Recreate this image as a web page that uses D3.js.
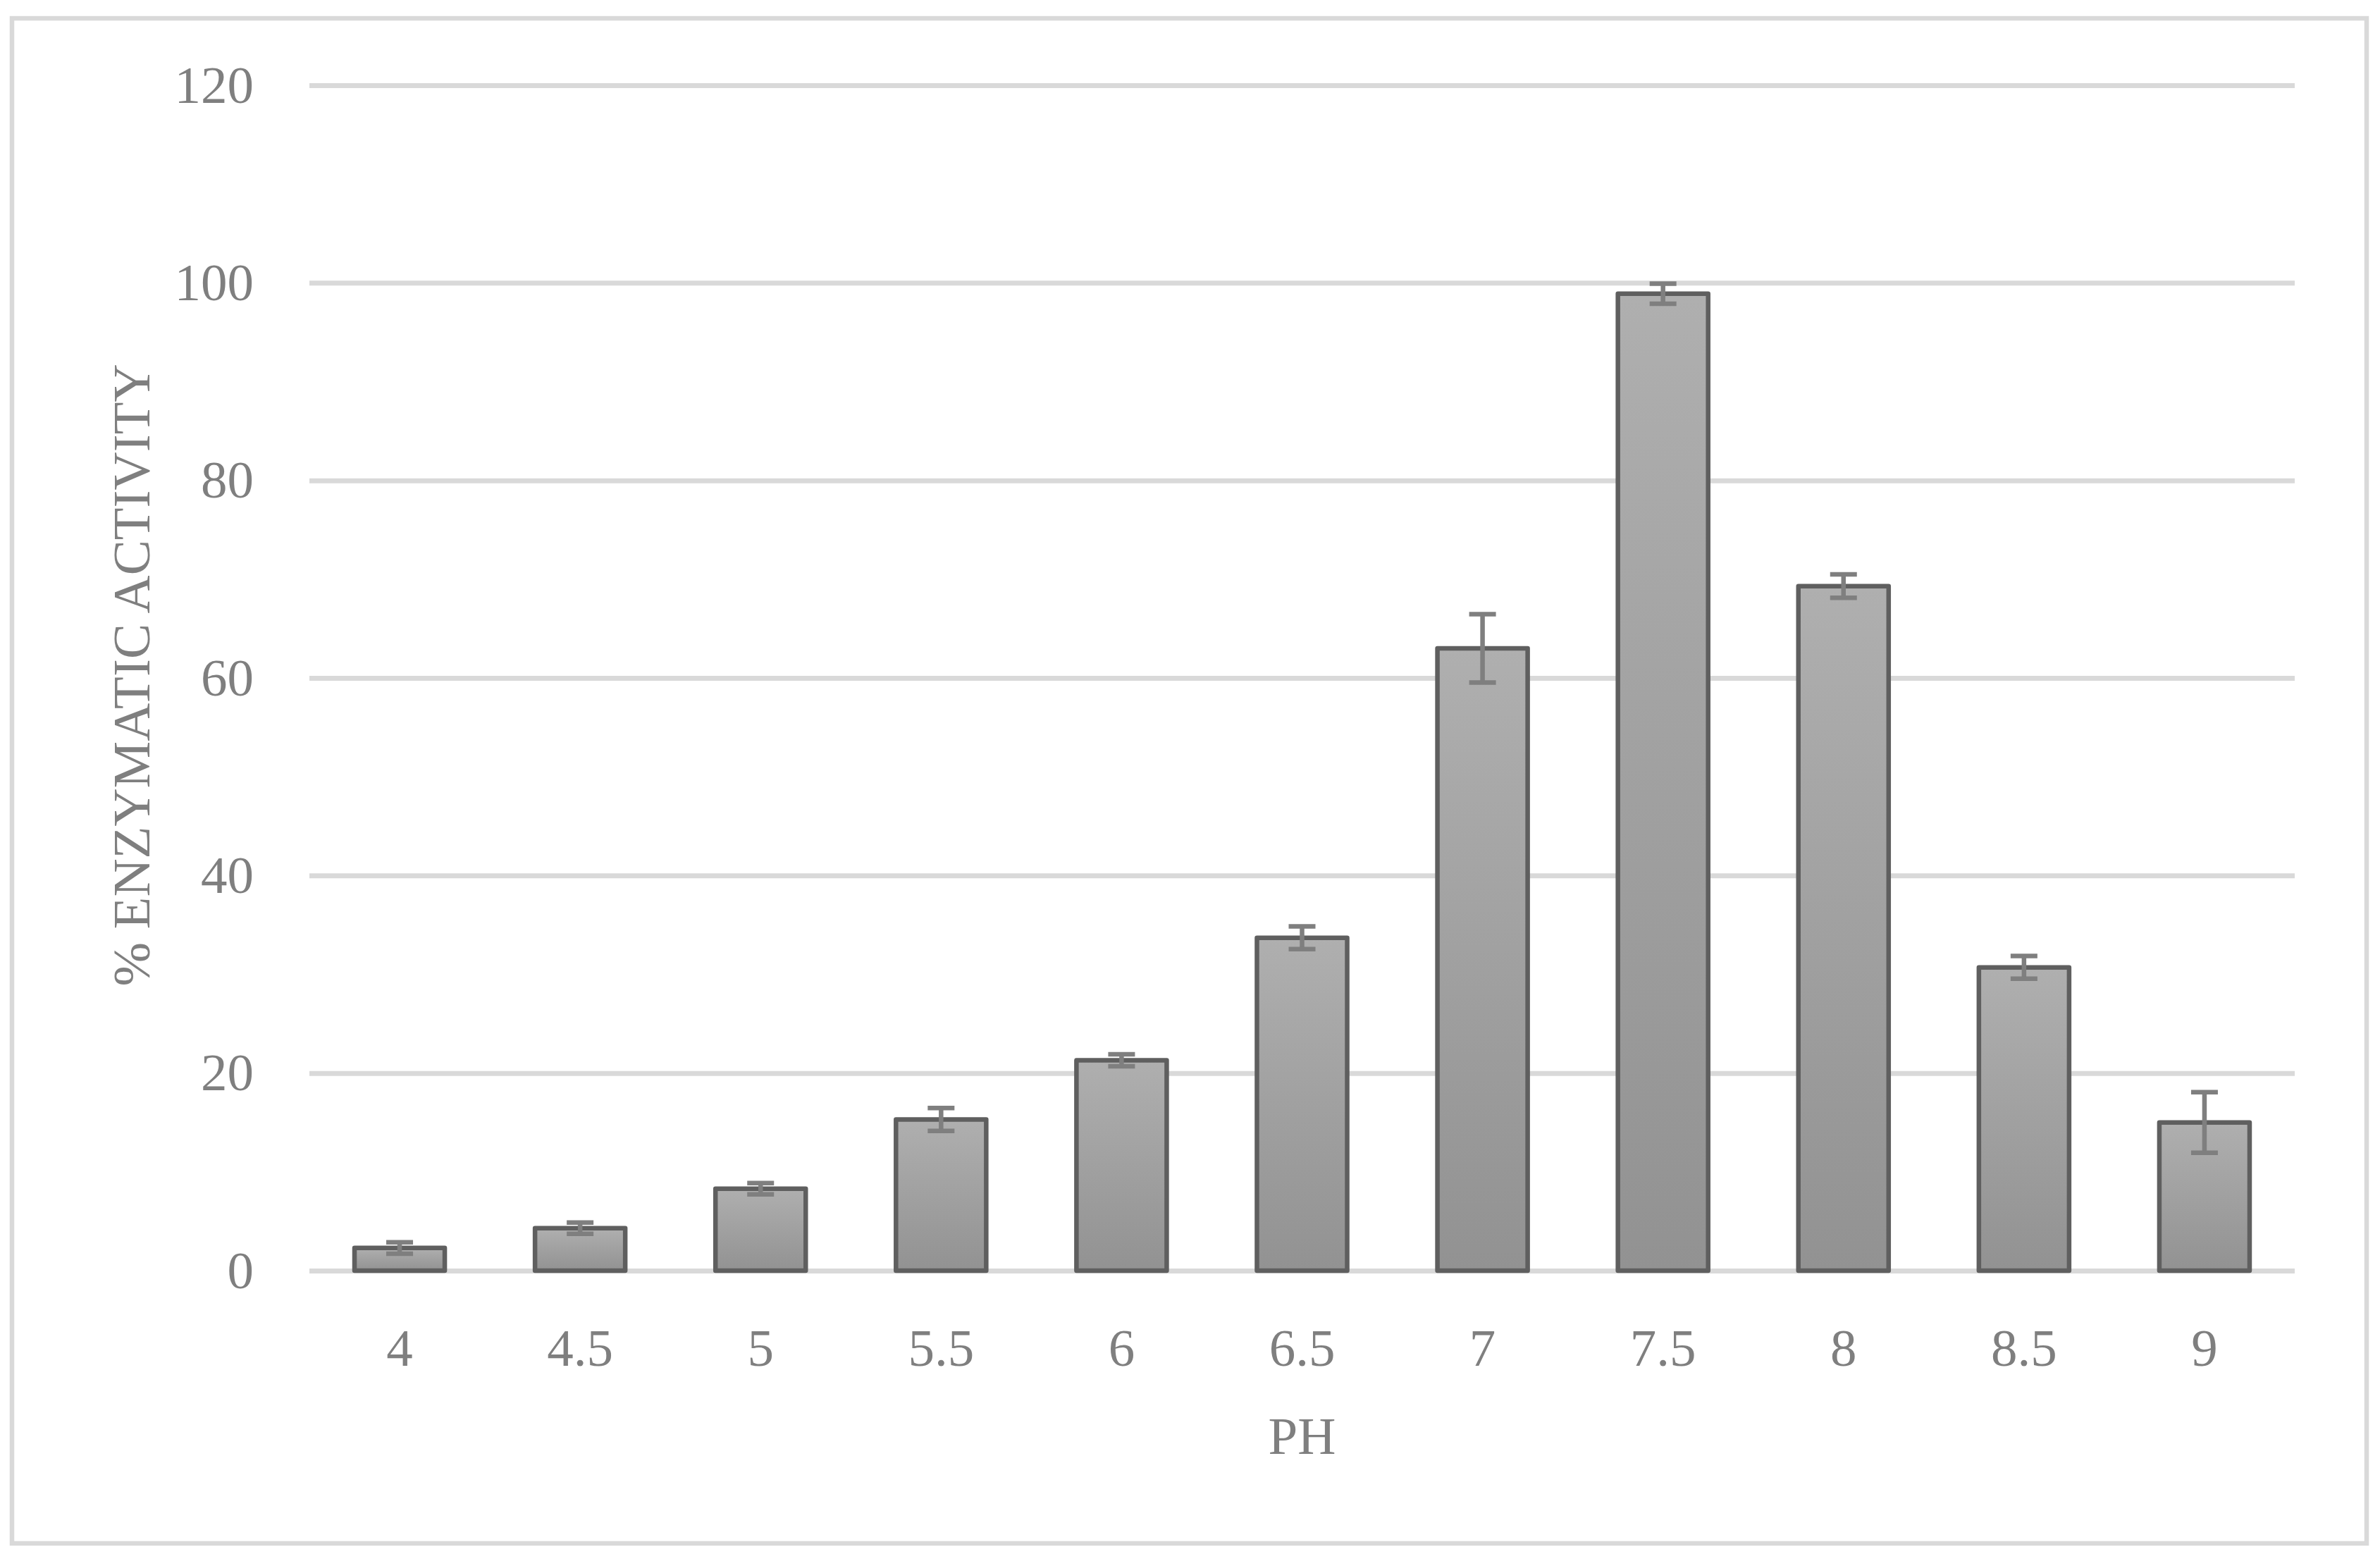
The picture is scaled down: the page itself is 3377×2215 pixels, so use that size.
<!DOCTYPE html>
<html>
<head>
<meta charset="utf-8">
<script src="https://cdn.jsdelivr.net/npm/d3@7"></script>
<style>
  html, body { margin: 0; padding: 0; background: #ffffff; }
  text { font-family: 'Palatino Linotype', 'Book Antiqua', Palatino, 'Liberation Serif', serif; fill: #7f7f7f; }
</style>
</head>
<body>
<div id="chart"></div>
<script>
// chart data
const phLabels = ['4', '4.5', '5', '5.5', '6', '6.5', '7', '7.5', '8', '8.5', '9']
const activity = [2.3, 4.3, 8.3, 15.3, 21.3, 33.7, 63.0, 98.9, 69.3, 30.7, 15.0]
const activityErr = [0.58, 0.57, 0.57, 1.16, 0.61, 1.15, 3.46, 1.01, 1.18, 1.15, 3.06]
const yTicks = [0, 20, 40, 60, 80, 100, 120]

const width = 3377
const height = 2215
const plot = { left: 439, right: 3256, top: 121, bottom: 1803 }

const svg = d3.select('#chart')
  .append('svg')
  .attr('width', width)
  .attr('height', height)

// outer frame
svg.append('rect')
  .attr('x', 17)
  .attr('y', 26)
  .attr('width', 3341)
  .attr('height', 2164)
  .attr('fill', '#ffffff')
  .attr('stroke', '#d9d9d9')
  .attr('stroke-width', 6.5)

const defs = svg.append('defs')
const grad = defs.append('linearGradient')
  .attr('id', 'barFill')
  .attr('x1', 0).attr('y1', 0)
  .attr('x2', 0).attr('y2', 1)
grad.append('stop').attr('offset', '0%').attr('stop-color', '#afafaf')
grad.append('stop').attr('offset', '100%').attr('stop-color', '#929292')

const x = d3.scaleBand()
  .domain(phLabels)
  .range([plot.left, plot.right])
  .paddingInner(0.5)
  .paddingOuter(0.25)

const y = d3.scaleLinear()
  .domain([0, 120])
  .range([plot.bottom, plot.top])

// gridlines
const grid = svg.append('g')
  .attr('transform', `translate(${plot.left},0)`)
  .call(d3.axisLeft(y).tickValues(yTicks).tickSize(-(plot.right - plot.left)).tickFormat(''))
grid.select('.domain').remove()
grid.selectAll('line')
  .attr('stroke', '#d9d9d9')
  .attr('stroke-width', 7)

// y axis labels
const yAxis = svg.append('g')
  .attr('transform', `translate(${plot.left},0)`)
  .call(d3.axisLeft(y).tickValues(yTicks).tickSize(0).tickPadding(79))
yAxis.select('.domain').remove()
yAxis.selectAll('text')
  .attr('style', 'font-size: 75px; fill: #7f7f7f')

// x axis labels
const xAxis = svg.append('g')
  .attr('transform', `translate(0,${plot.bottom})`)
  .call(d3.axisBottom(x).tickSize(0).tickPadding(82))
xAxis.select('.domain').remove()
xAxis.selectAll('text')
  .attr('style', 'font-size: 75px; fill: #7f7f7f')

// bars
svg.append('g')
  .selectAll('rect')
  .data(phLabels)
  .join('rect')
  .attr('x', d => x(d))
  .attr('y', (d, i) => y(activity[i]))
  .attr('width', x.bandwidth())
  .attr('height', (d, i) => y(0) - y(activity[i]))
  .attr('fill', 'url(#barFill)')
  .attr('stroke', '#5f5f5f')
  .attr('stroke-width', 6.5)
  .attr('stroke-linejoin', 'round')

// error bars
const capHalf = 19
const errG = svg.append('g')
  .attr('stroke', '#7f7f7f')
  .attr('stroke-width', 6.5)
phLabels.forEach((d, i) => {
  const cx = x(d) + x.bandwidth() / 2
  const hi = y(activity[i] + activityErr[i])
  const lo = y(activity[i] - activityErr[i])
  errG.append('line').attr('x1', cx).attr('x2', cx).attr('y1', hi).attr('y2', lo)
  errG.append('line').attr('x1', cx - capHalf).attr('x2', cx + capHalf).attr('y1', hi).attr('y2', hi)
  errG.append('line').attr('x1', cx - capHalf).attr('x2', cx + capHalf).attr('y1', lo).attr('y2', lo)
})

// axis titles
svg.append('text')
  .attr('x', (plot.left + plot.right) / 2)
  .attr('y', 2063)
  .attr('text-anchor', 'middle')
  .attr('style', 'font-size: 75px')
  .text('PH')

svg.append('text')
  .attr('transform', 'translate(212,958) rotate(-90)')
  .attr('text-anchor', 'middle')
  .attr('style', 'font-size: 75px')
  .text('% ENZYMATIC ACTIVITY')
</script>
</body>
</html>
